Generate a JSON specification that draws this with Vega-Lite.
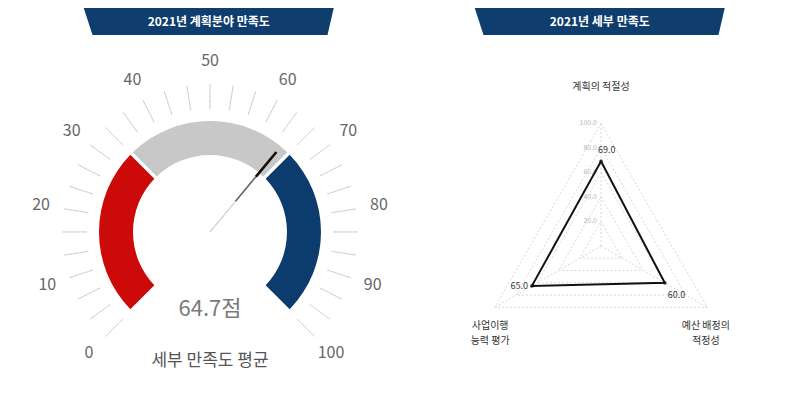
{
  "$schema": "https://vega.github.io/schema/vega-lite/v6.json",
  "padding": {"left": 0, "top": 8, "right": 0, "bottom": 0},
  "spacing": 0,
  "background": "white",
  "config": {"view": {"stroke": null}, "font": "Noto Sans CJK KR", "text": {"font": "Noto Sans CJK KR"}},
  "datasets": {
    "gaugeTicks": [{"v":0},{"v":3.33},{"v":6.67},{"v":10},{"v":13.33},{"v":16.67},{"v":20},{"v":23.33},{"v":26.67},{"v":30},{"v":33.33},{"v":36.67},{"v":40},{"v":43.33},{"v":46.67},{"v":50},{"v":53.33},{"v":56.67},{"v":60},{"v":63.33},{"v":66.67},{"v":70},{"v":73.33},{"v":76.67},{"v":80},{"v":83.33},{"v":86.67},{"v":90},{"v":93.33},{"v":96.67},{"v":100}],
    "gaugeLabels": [{"v":0},{"v":10},{"v":20},{"v":30},{"v":40},{"v":50},{"v":60},{"v":70},{"v":80},{"v":90},{"v":100}],
    "bands": [{"band":"low","start":0,"end":33.33},{"band":"mid","start":33.33,"end":66.67},{"band":"high","start":66.67,"end":100}],
    "score": [{"score":64.7,"caption":"세부 만족도 평균"}],
    "radar": [
      {"item":"계획의 적절성","order":0,"score":69.0},
      {"item":"예산 배정의\n적정성","order":1,"score":60.0},
      {"item":"사업이행\n능력 평가","order":2,"score":65.0}
    ],
    "gridLevels": [{"level":20,"k":[0,1,2]},{"level":40,"k":[0,1,2]},{"level":60,"k":[0,1,2]},{"level":80,"k":[0,1,2]},{"level":100,"k":[0,1,2]}]
  },
  "hconcat": [
    {
      "vconcat": [
        {
          "width": 245, "height": 27,
          "data": {"values": [{"title": "2021년 계획분야 만족도"}]},
          "layer": [
            {"mark": {"type": "point", "filled": true, "color": "#0f3d6e", "opacity": 1, "size": 62500, "shape": "M-1,-0.108L1,-0.108L0.95,0.108L-0.93,0.108Z"}, "encoding": {}},
            {"mark": {"type": "text", "color": "white", "fontSize": 12, "fontWeight": "bold", "baseline": "middle"}, "encoding": {"text": {"field": "title", "type": "nominal"}}}
          ]
        },
        {
          "width": 420, "height": 350,
          "layer": [
            {
              "data": {"name": "gaugeTicks"},
              "mark": {"type": "arc", "innerRadius": 123, "outerRadius": 148, "stroke": "#d0d0d0", "strokeWidth": 1, "strokeDash": [3, 2], "fillOpacity": 0},
              "encoding": {
                "theta": {"field": "v", "type": "quantitative", "stack": null, "scale": {"domain": [0, 100], "range": [-2.356, 2.356]}},
                "theta2": {"field": "v"}
              }
            },
            {
              "data": {"name": "bands"},
              "mark": {"type": "arc", "innerRadius": 77, "outerRadius": 111, "padAngle": 0.025},
              "encoding": {
                "theta": {"field": "start", "type": "quantitative", "stack": null, "scale": {"domain": [0, 100], "range": [-2.356, 2.356]}},
                "theta2": {"field": "end"},
                "color": {"field": "band", "type": "nominal", "legend": null, "scale": {"domain": ["low", "mid", "high"], "range": ["#cc0a0a", "#c8c8c8", "#0c3b6d"]}}
              }
            },
            {
              "data": {"name": "score"},
              "mark": {"type": "arc", "innerRadius": 0, "outerRadius": 103, "strokeWidth": 1, "fillOpacity": 0, "stroke": "#c8c8c8"},
              "encoding": {
                "theta": {"field": "score", "type": "quantitative", "stack": null, "scale": {"domain": [0, 100], "range": [-2.356, 2.356]}},
                "theta2": {"field": "score"}
              }
            },
            {
              "data": {"name": "score"},
              "mark": {"type": "arc", "innerRadius": 40, "outerRadius": 103, "strokeWidth": 1.6, "fillOpacity": 0, "stroke": "#666666"},
              "encoding": {
                "theta": {"field": "score", "type": "quantitative", "stack": null, "scale": {"domain": [0, 100], "range": [-2.356, 2.356]}},
                "theta2": {"field": "score"}
              }
            },
            {
              "data": {"name": "score"},
              "mark": {"type": "arc", "innerRadius": 72, "outerRadius": 104, "strokeWidth": 2.6, "fillOpacity": 0, "stroke": "#111111"},
              "encoding": {
                "theta": {"field": "score", "type": "quantitative", "stack": null, "scale": {"domain": [0, 100], "range": [-2.356, 2.356]}},
                "theta2": {"field": "score"}
              }
            },
            {
              "data": {"name": "gaugeLabels"},
              "mark": {"type": "text", "radius": 171, "fontSize": 16, "color": "#666666", "baseline": "middle", "align": "center"},
              "encoding": {
                "theta": {"field": "v", "type": "quantitative", "stack": null, "scale": {"domain": [0, 100], "range": [-2.356, 2.356]}},
                "text": {"field": "v", "type": "quantitative"}
              }
            },
            {
              "data": {"name": "score"},
              "transform": [{"calculate": "format(datum.score, '.1f') + '점'", "as": "label"}],
              "mark": {"type": "text", "fontSize": 22, "color": "#7a7a7a", "baseline": "middle", "dy": 77},
              "encoding": {"text": {"field": "label", "type": "nominal"}}
            },
            {
              "data": {"name": "score"},
              "mark": {"type": "text", "fontSize": 17, "color": "#555555", "baseline": "middle", "dy": 129},
              "encoding": {"text": {"field": "caption", "type": "nominal"}}
            }
          ]
        }
      ],
      "spacing": 18,
      "center": true
    },
    {
      "vconcat": [
        {
          "width": 245, "height": 27,
          "data": {"values": [{"title": "2021년 세부 만족도"}]},
          "layer": [
            {"mark": {"type": "point", "filled": true, "color": "#0f3d6e", "opacity": 1, "size": 62500, "shape": "M-1,-0.108L1,-0.108L0.95,0.108L-0.93,0.108Z"}, "encoding": {}},
            {"mark": {"type": "text", "color": "white", "fontSize": 12, "fontWeight": "bold", "baseline": "middle"}, "encoding": {"text": {"field": "title", "type": "nominal"}}}
          ]
        },
        {
          "width": 362, "height": 320,
          "layer": [
            {
              "data": {"name": "gridLevels"},
              "transform": [
                {"flatten": ["k"]},
                {"calculate": "datum.k * 2 * PI / 3", "as": "ang"},
                {"calculate": "datum.level * sin(datum.ang)", "as": "gx"},
                {"calculate": "datum.level * cos(datum.ang)", "as": "gy"}
              ],
              "mark": {"type": "line", "interpolate": "linear-closed", "color": "#d8d8d8", "strokeWidth": 1, "strokeDash": [2, 2]},
              "encoding": {
                "x": {"field": "gx", "type": "quantitative", "axis": null, "scale": {"domain": [-147.5, 147.5], "nice": false, "zero": false}},
                "y": {"field": "gy", "type": "quantitative", "axis": null, "scale": {"domain": [-130.4, 130.4], "nice": false, "zero": false}},
                "detail": {"field": "level", "type": "nominal"},
                "order": {"field": "k", "type": "quantitative"}
              }
            },
            {
              "data": {"name": "radar"},
              "transform": [
                {"calculate": "datum.order * 2 * PI / 3", "as": "ang"},
                {"calculate": "100 * sin(datum.ang)", "as": "sx"},
                {"calculate": "100 * cos(datum.ang)", "as": "sy"},
                {"calculate": "0", "as": "zero"}
              ],
              "mark": {"type": "rule", "color": "#d8d8d8", "strokeWidth": 1, "strokeDash": [2, 2]},
              "encoding": {
                "x": {"field": "zero", "type": "quantitative"},
                "y": {"field": "zero", "type": "quantitative"},
                "x2": {"field": "sx"},
                "y2": {"field": "sy"}
              }
            },
            {
              "data": {"name": "gridLevels"},
              "transform": [{"calculate": "0", "as": "zero"}],
              "mark": {"type": "text", "fontSize": 7, "color": "#b5b5b5", "align": "right", "baseline": "middle", "dx": -4},
              "encoding": {
                "x": {"field": "zero", "type": "quantitative"},
                "y": {"field": "level", "type": "quantitative"},
                "text": {"field": "level", "type": "quantitative", "format": ".1f"}
              }
            },
            {
              "data": {"name": "radar"},
              "transform": [
                {"calculate": "datum.order * 2 * PI / 3", "as": "ang"},
                {"calculate": "datum.score * sin(datum.ang)", "as": "px"},
                {"calculate": "datum.score * cos(datum.ang)", "as": "py"}
              ],
              "layer": [
                {
                  "mark": {"type": "line", "interpolate": "linear-closed", "color": "#111111", "strokeWidth": 2},
                  "encoding": {
                    "x": {"field": "px", "type": "quantitative"},
                    "y": {"field": "py", "type": "quantitative"},
                    "order": {"field": "order", "type": "quantitative"}
                  }
                },
                {
                  "mark": {"type": "point", "filled": true, "color": "#111111", "size": 14},
                  "encoding": {
                    "x": {"field": "px", "type": "quantitative"},
                    "y": {"field": "py", "type": "quantitative"}
                  }
                },
                {
                  "transform": [{"filter": "datum.order == 0"}],
                  "mark": {"type": "text", "fontSize": 9, "color": "#333333", "align": "left", "baseline": "bottom", "dy": -6, "dx": -3},
                  "encoding": {
                    "x": {"field": "px", "type": "quantitative"},
                    "y": {"field": "py", "type": "quantitative"},
                    "text": {"field": "score", "type": "quantitative", "format": ".1f"}
                  }
                },
                {
                  "transform": [{"filter": "datum.order == 1"}],
                  "mark": {"type": "text", "fontSize": 9, "color": "#333333", "align": "left", "baseline": "top", "dx": 3, "dy": 8},
                  "encoding": {
                    "x": {"field": "px", "type": "quantitative"},
                    "y": {"field": "py", "type": "quantitative"},
                    "text": {"field": "score", "type": "quantitative", "format": ".1f"}
                  }
                },
                {
                  "transform": [{"filter": "datum.order == 2"}],
                  "mark": {"type": "text", "fontSize": 9, "color": "#333333", "align": "right", "baseline": "middle", "dx": -4},
                  "encoding": {
                    "x": {"field": "px", "type": "quantitative"},
                    "y": {"field": "py", "type": "quantitative"},
                    "text": {"field": "score", "type": "quantitative", "format": ".1f"}
                  }
                }
              ]
            },
            {
              "data": {"name": "radar"},
              "transform": [
                {"calculate": "datum.order * 2 * PI / 3", "as": "ang"},
                {"calculate": "125 * sin(datum.ang)", "as": "lx"},
                {"calculate": "125 * cos(datum.ang)", "as": "ly"}
              ],
              "layer": [
                {
                  "transform": [{"filter": "datum.order == 0"}],
                  "mark": {"type": "text", "fontSize": 10, "color": "#333333", "align": "center", "baseline": "bottom", "lineBreak": "\n", "dy": -1},
                  "encoding": {
                    "x": {"field": "lx", "type": "quantitative"},
                    "y": {"field": "ly", "type": "quantitative"},
                    "text": {"field": "item", "type": "nominal"}
                  }
                },
                {
                  "transform": [{"filter": "datum.order == 1"}],
                  "mark": {"type": "text", "fontSize": 10, "color": "#333333", "align": "center", "baseline": "top", "lineBreak": "\n", "lineHeight": 15, "dx": -28, "dy": -2},
                  "encoding": {
                    "x": {"field": "lx", "type": "quantitative"},
                    "y": {"field": "ly", "type": "quantitative"},
                    "text": {"field": "item", "type": "nominal"}
                  }
                },
                {
                  "transform": [{"filter": "datum.order == 2"}],
                  "mark": {"type": "text", "fontSize": 10, "color": "#333333", "align": "center", "baseline": "top", "lineBreak": "\n", "lineHeight": 15, "dx": 22, "dy": -2},
                  "encoding": {
                    "x": {"field": "lx", "type": "quantitative"},
                    "y": {"field": "ly", "type": "quantitative"},
                    "text": {"field": "item", "type": "nominal"}
                  }
                }
              ]
            }
          ]
        }
      ],
      "spacing": 46,
      "center": true
    }
  ]
}
